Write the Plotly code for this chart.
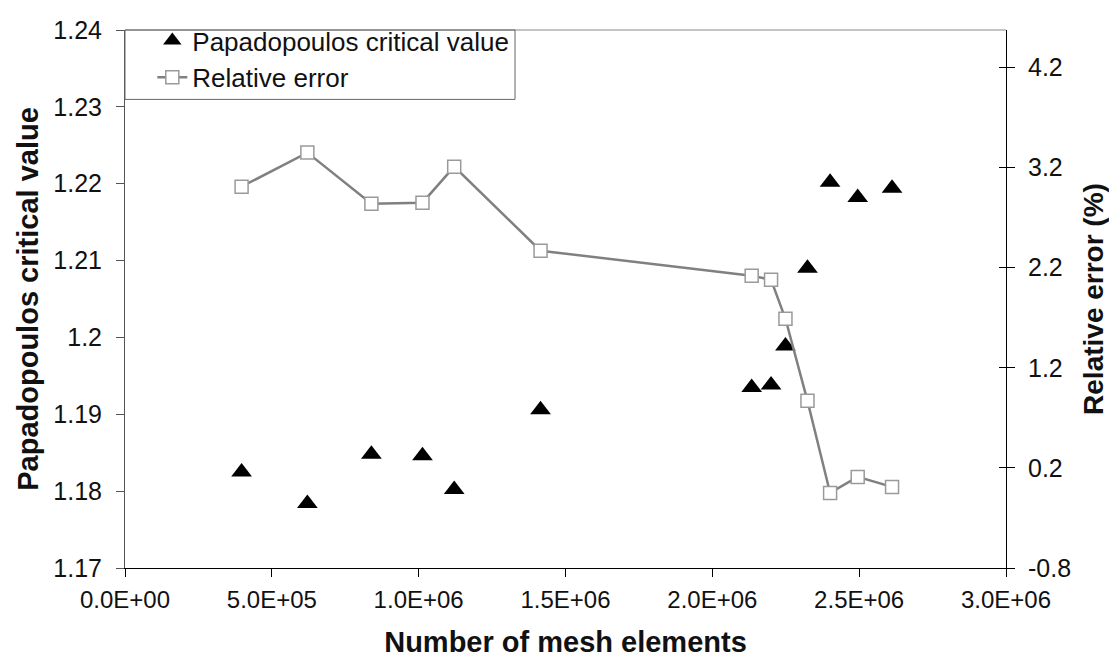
import plotly.graph_objects as go

# values
mesh_elements = [397000, 621000, 839000, 1013000, 1121000, 1415000, 2134000,
                 2200000, 2249000, 2324000, 2401000, 2495000, 2612000]
critical_value = [1.1825, 1.1784, 1.1848, 1.1846, 1.1802, 1.1906, 1.1935,
                  1.1938, 1.1989, 1.2090, 1.2202, 1.2182, 1.2194]
relative_error = [3.01, 3.35, 2.84, 2.85, 3.21, 2.37, 2.12,
                  2.08, 1.69, 0.87, -0.05, 0.11, 0.01]

x_ticks = [0, 500000, 1000000, 1500000, 2000000, 2500000, 3000000]
x_ticktext = ["0.0E+00", "5.0E+05", "1.0E+06", "1.5E+06", "2.0E+06", "2.5E+06", "3.0E+06"]
left_ticks = [1.17, 1.18, 1.19, 1.20, 1.21, 1.22, 1.23, 1.24]
left_ticktext = ["1.17", "1.18", "1.19", "1.2", "1.21", "1.22", "1.23", "1.24"]
right_ticks = [-0.8, 0.2, 1.2, 2.2, 3.2, 4.2]
right_ticktext = ["-0.8", "0.2", "1.2", "2.2", "3.2", "4.2"]

FONT = "Liberation Sans, Arial, sans-serif"
TXT = "#111111"

fig = go.Figure()

fig.add_trace(go.Scatter(
    x=mesh_elements, y=critical_value, mode="markers",
    name="Papadopoulos critical value",
    marker=dict(symbol="triangle-up", size=18, color="black"),
))
fig.add_trace(go.Scatter(
    x=mesh_elements, y=relative_error, mode="lines+markers", yaxis="y2",
    name="Relative error",
    line=dict(color="#808080", width=2.5),
    marker=dict(symbol="square", size=13, color="white",
                line=dict(color="#9a9a9a", width=1.5)),
))
# empty trace so the inner half of the right-hand cross ticks gets drawn
fig.add_trace(go.Scatter(x=[], y=[], yaxis="y3", showlegend=False, hoverinfo="skip"))

# the page body has an 8px margin, so the figure is a bit smaller than the window
fig.update_layout(
    width=1101, height=650,
    margin=dict(l=117, r=103, t=9, b=90),
    paper_bgcolor="white", plot_bgcolor="white",
    font=dict(family=FONT, color=TXT, size=25),
    showlegend=True,
    legend=dict(
        x=0.031, y=1.024, xanchor="left", yanchor="top",
        bgcolor="rgba(0,0,0,0)", borderwidth=0,
        font=dict(size=26, family=FONT, color=TXT),
        tracegroupgap=0,
    ),
    xaxis=dict(
        range=[0, 3000000], tickvals=x_ticks, ticktext=x_ticktext,
        ticks="outside", ticklen=8, tickcolor="black",
        showline=True, linecolor="black", linewidth=1,
        showgrid=False, zeroline=False, automargin=False,
        tickfont=dict(size=24), ticklabelstandoff=2,
        title=dict(text="<b>Number of mesh elements</b>", font=dict(size=29), standoff=32),
    ),
    yaxis=dict(
        range=[1.17, 1.24], tickvals=left_ticks, ticktext=left_ticktext,
        ticks="outside", ticklen=8, tickcolor="#555555",
        showline=True, linecolor="#555555", linewidth=1,
        showgrid=False, zeroline=False, automargin=False,
        tickfont=dict(size=25), ticklabelstandoff=9,
        title=dict(text="<b>Papadopoulos critical value</b>", font=dict(size=29), standoff=6),
    ),
    yaxis2=dict(
        overlaying="y", side="right",
        range=[-0.8, 4.575], tickvals=right_ticks, ticktext=right_ticktext,
        ticks="outside", ticklen=8, tickcolor="black",
        showline=True, linecolor="black", linewidth=1,
        showgrid=False, zeroline=False, automargin=False,
        tickfont=dict(size=25), ticklabelstandoff=8,
        title=dict(text="<b>Relative error (%)</b>", font=dict(size=28), standoff=23),
    ),
    yaxis3=dict(
        overlaying="y", side="right",
        range=[-0.8, 4.575], tickvals=right_ticks,
        ticks="inside", ticklen=7, tickcolor="black", automargin=False,
        showticklabels=False, showline=False, showgrid=False, zeroline=False,
    ),
    shapes=[
        # thin grey top border of the plot area
        dict(type="line", xref="paper", yref="paper", x0=0, x1=1, y0=1, y1=1,
             line=dict(color="#888888", width=1)),
        # legend frame
        dict(type="rect", xref="paper", yref="paper", x0=0, x1=0.4427, y0=0.871, y1=1,
             line=dict(color="#666666", width=1), fillcolor="rgba(0,0,0,0)"),
    ],
)

fig.write_html("out.html")
